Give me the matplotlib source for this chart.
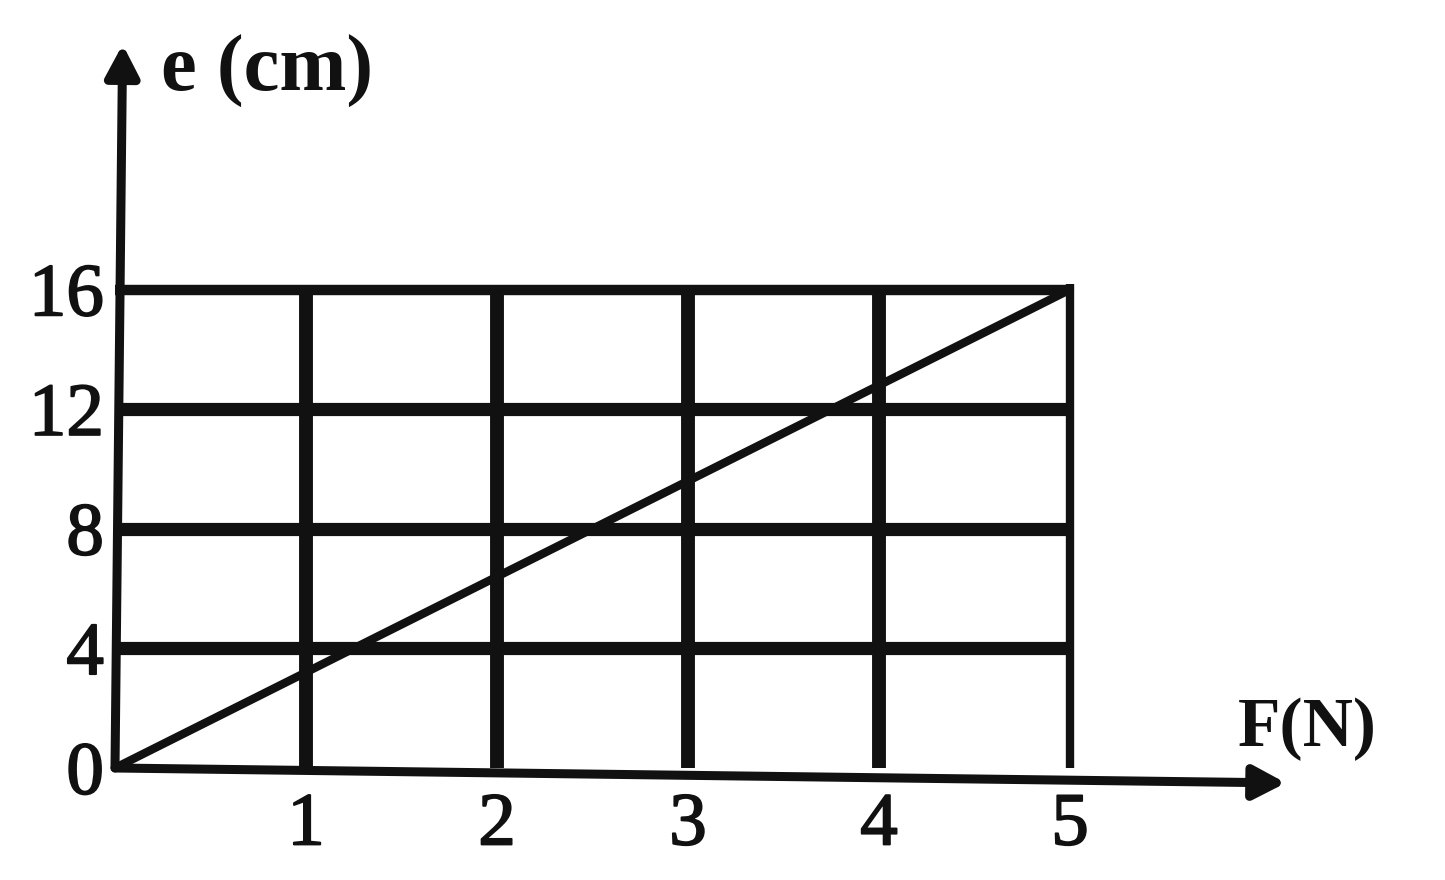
import matplotlib.pyplot as plt
import matplotlib.patheffects as pe

# force / extension values of the spring line
force = [0, 5]
extension = [0, 16]
x_ticks = [1, 2, 3, 4, 5]
y_ticks = [0, 4, 8, 12, 16]
x_label = "F(N)"
y_label = "e (cm)"

ink = "#111111"
plt.rcParams["font.family"] = ["Liberation Serif", "DejaVu Serif"]
heavy = [pe.withStroke(linewidth=1.3, foreground=ink)]

fig = plt.figure(figsize=(14.45, 8.8), dpi=100)
ax = fig.add_axes([115 / 1445, 112 / 880, 1185 / 1445, 738 / 880])
ax.set_xlim(0, 1185 / 191)
ax.set_ylim(0, 738 / 29.9)

# grid of the chart
for y in y_ticks[1:-1]:
    ax.plot([0, 5], [y, y], color=ink, lw=9.5, solid_capstyle="butt")
ax.plot([0, 5], [16, 16], color=ink, lw=7.5, solid_capstyle="butt")
for x in x_ticks[:-1]:
    ax.plot([x, x], [0, 16], color=ink, lw=10, solid_capstyle="butt")
ax.plot([5, 5], [0, 16.2], color=ink, lw=6, solid_capstyle="butt")

# axes with arrow heads
arrow = dict(arrowstyle="-|>,head_length=1.9,head_width=1.0",
             color=ink, lw=6.5, shrinkA=0, shrinkB=0)
ax.annotate("", xy=(6.13, -0.5), xytext=(0, 0), arrowprops=arrow,
            annotation_clip=False)
ax.annotate("", xy=(0.04, 24.2), xytext=(0, 0), arrowprops=arrow,
            annotation_clip=False)

# straight line e(F)
ax.plot(force, extension, color=ink, lw=6, solid_capstyle="round")

for s in ax.spines.values():
    s.set_visible(False)
ax.set_xticks(x_ticks)
ax.set_xticklabels([str(v) for v in x_ticks])
ax.set_yticks(y_ticks)
ax.set_yticklabels([str(v) for v in y_ticks])
ax.tick_params(length=0, labelsize=54, colors=ink)
ax.tick_params(axis="x", pad=18)
ax.tick_params(axis="y", pad=8)
for lab in ax.get_xticklabels() + ax.get_yticklabels():
    lab.set_path_effects(heavy)

ax.text(0.24, 23.3, y_label, fontsize=58, fontweight="bold",
        color=ink, va="center", ha="left")
ax.text(5.88, 1.3, x_label, fontsize=50, fontweight="bold",
        color=ink, va="center", ha="left")

fig.savefig("out.png", dpi=100, facecolor="white")
